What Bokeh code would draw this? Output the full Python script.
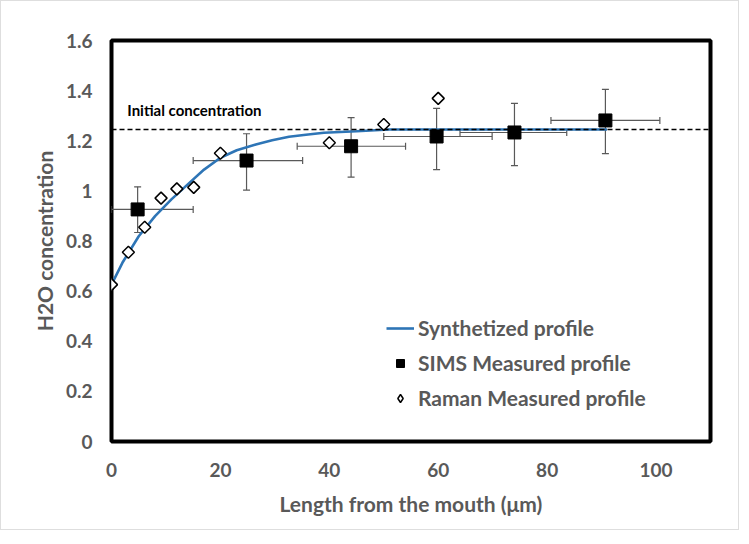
import numpy as np
from bokeh.plotting import figure
from bokeh.models import (ColumnDataSource, Whisker, TeeHead, Span, Label,
                          Legend, LegendItem, FixedTicker, Range1d)
from bokeh.embed import file_html
from bokeh.resources import INLINE

# ---------------- data ----------------
synth_x = [0, 2, 5, 8, 11, 14, 17, 20, 23, 26.5, 29.5, 32.6, 35.7, 39, 45, 51, 60, 70, 80, 91]
synth_y = [0.626, 0.713, 0.819, 0.899, 0.966, 1.026, 1.085, 1.132, 1.162, 1.185, 1.202,
           1.216, 1.224, 1.232, 1.238, 1.245, 1.245, 1.245, 1.245, 1.245]

sims_x = [4.8, 24.8, 44.0, 59.7, 74.0, 90.7]
sims_y = [0.926, 1.121, 1.178, 1.217, 1.233, 1.281]
sims_y_lo = [0.834, 1.003, 1.055, 1.085, 1.101, 1.149]
sims_y_hi = [1.016, 1.228, 1.292, 1.329, 1.349, 1.405]
sims_x_lo = [0.0, 15.0, 34.1, 50.0, 64.0, 80.7]
sims_x_hi = [15.0, 35.1, 54.0, 69.9, 83.6, 100.7]

raman_x = [0, 3.1, 6.1, 9.1, 12.0, 15.1, 20.0, 40.0, 50.0, 60.0]
raman_y = [0.626, 0.755, 0.855, 0.971, 1.008, 1.014, 1.150, 1.192, 1.265, 1.369]

initial_concentration = 1.245

x_ticks = [0, 20, 40, 60, 80, 100]
x_tick_labels = ["0", "20", "40", "60", "80", "100"]
y_ticks = [0, 0.2, 0.4, 0.6, 0.8, 1, 1.2, 1.4, 1.6]
y_tick_labels = ["0", "0.2", "0.4", "0.6", "0.8", "1", "1.2", "1.4", "1.6"]

# ---------------- styling ----------------
FONT = "Lato"
GREY = "#595959"

p = figure(frame_width=599, frame_height=401,
           min_border_left=110, min_border_top=39,
           min_border_right=28, min_border_bottom=88,
           x_range=Range1d(0, 110), y_range=Range1d(0, 1.6),
           output_backend="svg", toolbar_location=None)
p.styles = {"border": "1px solid #dedede"}

p.grid.visible = False
p.outline_line_color = "black"
p.outline_line_width = 4

for ax in (p.xaxis[0], p.yaxis[0]):
    ax.axis_line_color = None
    ax.major_tick_line_color = None
    ax.minor_tick_line_color = None
    ax.major_tick_out = 0
    ax.major_tick_in = 0
    ax.major_label_text_font = FONT
    ax.major_label_text_font_style = "bold"
    ax.major_label_text_font_size = "19px"
    ax.major_label_text_color = GREY
    ax.axis_label_text_font = FONT
    ax.axis_label_text_font_style = "bold"
    ax.axis_label_text_font_size = "21px"
    ax.axis_label_text_color = GREY

p.xaxis.ticker = FixedTicker(ticks=x_ticks)
p.xaxis.major_label_overrides = dict(zip(x_ticks, x_tick_labels))
p.yaxis.ticker = FixedTicker(ticks=y_ticks)
p.yaxis.major_label_overrides = dict(zip(y_ticks, y_tick_labels))
p.xaxis.axis_label = "Length from the mouth (\u03bcm)"
p.yaxis.axis_label = "H2O concentration"
p.xaxis.major_label_standoff = 21
p.yaxis.major_label_standoff = 19
p.xaxis.axis_label_standoff = 11
p.yaxis.axis_label_standoff = 6

# initial concentration dashed line
p.add_layout(Span(location=initial_concentration, dimension="width",
                  line_color="black", line_width=1.6, line_dash="5 3"))
p.add_layout(Label(x=2.9, y=1.321, text="Initial concentration",
                   text_baseline="middle", text_font=FONT,
                   text_font_size="15px", text_font_style="bold",
                   text_color="black"))

# error bars
sims_src = ColumnDataSource(dict(x=sims_x, y=sims_y, ylo=sims_y_lo, yhi=sims_y_hi,
                                 xlo=sims_x_lo, xhi=sims_x_hi))
for dim, base, lo, hi in (("height", "x", "ylo", "yhi"), ("width", "y", "xlo", "xhi")):
    w = Whisker(source=sims_src, base=base, lower=lo, upper=hi, dimension=dim,
                line_color=GREY, line_width=1.2, level="underlay",
                upper_head=TeeHead(size=7, line_color=GREY, line_width=1.2),
                lower_head=TeeHead(size=7, line_color=GREY, line_width=1.2))
    p.add_layout(w)

line_r = p.line(synth_x, synth_y, line_color="#2E75B6", line_width=2.6)
sims_r = p.scatter("x", "y", source=sims_src, marker="square", size=13,
                   fill_color="black", line_color="black")
# legend glyph for the Raman series (hidden beneath the first Raman marker)
raman_leg = p.scatter(raman_x[:1], raman_y[:1], marker="diamond", size=13,
                      fill_color="white", line_color="black", line_width=1.5)
raman_r = p.scatter(raman_x, raman_y, marker="square", angle=np.pi / 4, size=8.5,
                    fill_color="white", line_color="black", line_width=1.5)

legend = Legend(items=[LegendItem(label="Synthetized profile", renderers=[line_r]),
                       LegendItem(label="SIMS Measured profile", renderers=[sims_r]),
                       LegendItem(label="Raman Measured profile", renderers=[raman_leg])],
                location=(275, 31), glyph_width=28, glyph_height=20,
                label_standoff=4, spacing=10, padding=0, margin=0,
                border_line_color=None, background_fill_alpha=0,
                label_text_font=FONT, label_text_font_style="bold",
                label_text_font_size="21px", label_text_color=GREY)
p.add_layout(legend)

open("out.html", "w").write(file_html(p, INLINE))
